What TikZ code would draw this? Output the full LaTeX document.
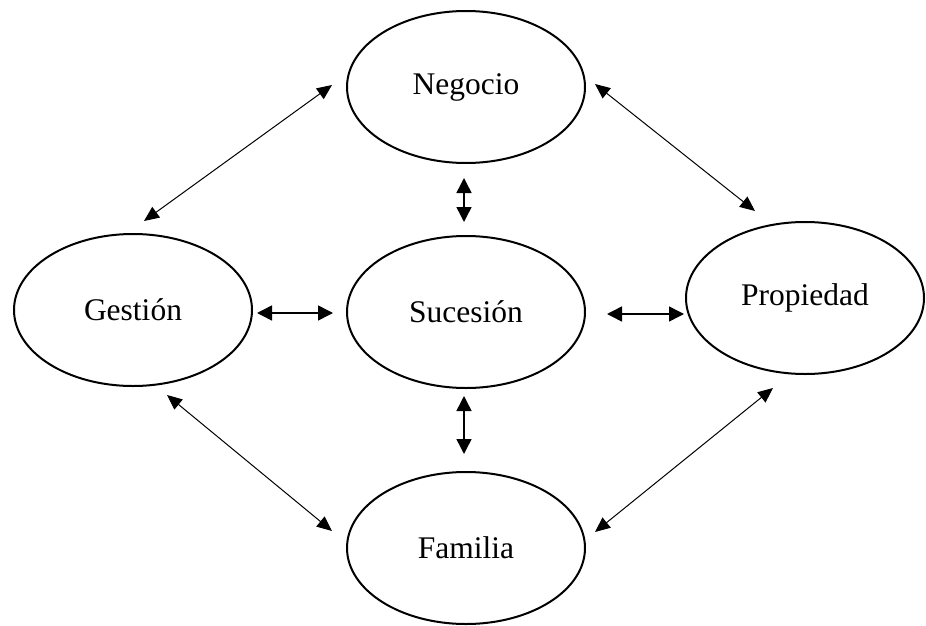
\documentclass[tikz,border=0pt]{standalone}
\usepackage{fontspec}
\setmainfont{Liberation Serif}
\usetikzlibrary{arrows.meta,shapes.geometric}
\begin{document}
\begin{tikzpicture}[x=1pt,y=-1pt,
  bubble/.style={draw, ellipse, line width=2pt, minimum width=238pt, minimum height=152pt, inner sep=0pt, font=\fontsize{31.5}{36}\selectfont},
  thickarr/.style={{Triangle[length=15pt,width=15pt]}-{Triangle[length=15pt,width=15pt]}, line width=1.5pt},
  thinarr/.style={{Triangle[length=15pt,width=13pt]}-{Triangle[length=15pt,width=13pt]}, line width=1pt}]
\useasboundingbox (0,0) rectangle (926,626);
\node[bubble] (neg) at (466,87) {Negocio};
\node[bubble] (ges) at (133,310) {Gestión};
\node[bubble] (suc) at (466,312) {Sucesión};
\node[bubble] (pro) at (805,298) {Propiedad};
\node[bubble] (fam) at (466,548) {Familia};
\draw[thinarr] ([shift={(-14,-2)}]neg.west) -- ([shift={(11,-12)}]ges.north);
\draw[thinarr] ([shift={(9,-3)}]neg.east) -- ([shift={(-50,-10)}]pro.north);
\draw[thickarr] ([shift={(-2,14)}]neg.south) -- ([shift={(-2,-13)}]suc.north);
\draw[thickarr] ([shift={(4,3)}]ges.east) -- ([shift={(-13,1)}]suc.west);
\draw[thickarr] ([shift={(21,2)}]suc.east) -- ([shift={(-1,16)}]pro.west);
\draw[thickarr] ([shift={(-2,7)}]suc.south) -- ([shift={(-2,-17)}]fam.north);
\draw[thinarr] ([shift={(34,8)}]ges.south) -- ([shift={(-14,-17)}]fam.west);
\draw[thinarr] ([shift={(-32,13)}]pro.south) -- ([shift={(9,-16)}]fam.east);
\end{tikzpicture}
\end{document}
